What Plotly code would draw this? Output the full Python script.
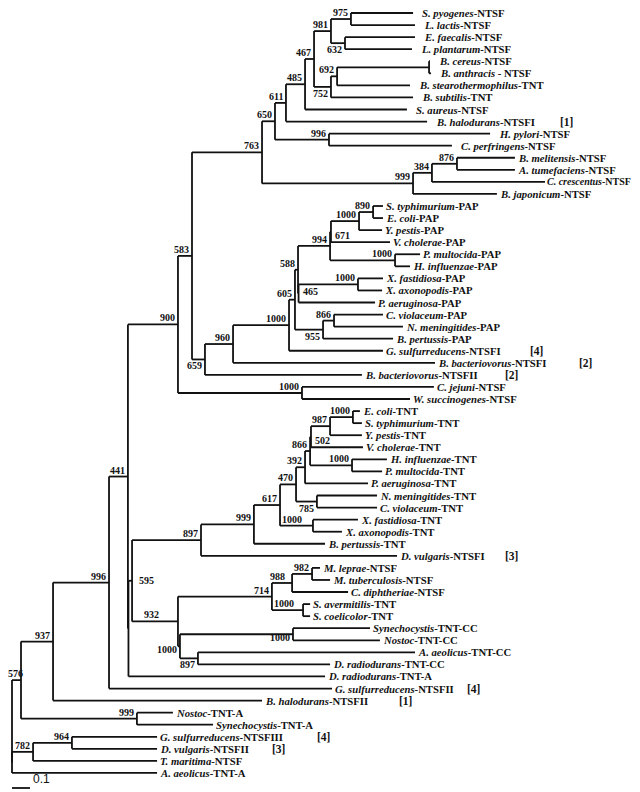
import plotly.graph_objects as go

# ---------------- leaves (top to bottom) ----------------
LEAF_SPECIES = [
    "S. pyogenes", "L. lactis", "E. faecalis", "L. plantarum", "B. cereus", "B. anthracis",
    "B. stearothermophilus", "B. subtilis", "S. aureus", "B. halodurans", "H. pylori",
    "C. perfringens", "B. melitensis", "A. tumefaciens", "C. crescentus", "B. japonicum",
    "S. typhimurium", "E. coli", "Y. pestis", "V. cholerae", "P. multocida", "H. influenzae",
    "X. fastidiosa", "X. axonopodis", "P. aeruginosa", "C. violaceum", "N. meningitides",
    "B. pertussis", "G. sulfurreducens", "B. bacteriovorus", "B. bacteriovorus", "C. jejuni",
    "W. succinogenes", "E. coli", "S. typhimurium", "Y. pestis", "V. cholerae", "H. influenzae",
    "P. multocida", "P. aeruginosa", "N. meningitides", "C. violaceum", "X. fastidiosa",
    "X. axonopodis", "B. pertussis", "D. vulgaris", "M. leprae", "M. tuberculosis",
    "C. diphtheriae", "S. avermitilis", "S. coelicolor", "Synechocystis", "Nostoc",
    "A. aeolicus", "D. radiodurans", "D. radiodurans", "G. sulfurreducens", "B. halodurans",
    "Nostoc", "Synechocystis", "G. sulfurreducens", "D. vulgaris", "T. maritima", "A. aeolicus",
]
LEAF_SUFFIX = [
    "-NTSF", "-NTSF", "-NTSF", "-NTSF", "-NTSF", " - NTSF", "-TNT", "-TNT", "-NTSF", "-NTSFI",
    "-NTSF", "-NTSF", "-NTSF", "-NTSF", "-NTSF", "-NTSF",
    "-PAP", "-PAP", "-PAP", "-PAP", "-PAP", "-PAP", "-PAP", "-PAP", "-PAP", "-PAP", "-PAP", "-PAP",
    "-NTSFI", "-NTSFI", "-NTSFII", "-NTSF", "-NTSF",
    "-TNT", "-TNT", "-TNT", "-TNT", "-TNT", "-TNT", "-TNT", "-TNT", "-TNT", "-TNT", "-TNT", "-TNT",
    "-NTSFI", "-NTSF", "-NTSF", "-NTSF", "-TNT", "-TNT",
    "-TNT-CC", "-TNT-CC", "-TNT-CC", "-TNT-CC", "-TNT-A", "-NTSFII", "-NTSFII",
    "-TNT-A", "-TNT-A", "-NTSFIII", "-NTSFII", "-NTSF", "-TNT-A",
]
# distance from root (substitutions/site) of each leaf tip
LEAF_DEPTH = [
    2.228, 2.239, 2.239, 2.222, 2.322, 2.328, 2.211, 2.228, 2.194, 2.306,
    2.656, 2.444, 2.794, 2.794, 2.961, 2.694,
    2.061, 2.061, 2.056, 2.100, 2.267, 2.211, 2.061, 2.056, 2.017, 2.061, 2.172, 2.117,
    2.061, 2.350, 1.944, 2.344, 2.211,
    1.933, 1.944, 1.944, 1.950, 2.083, 2.056, 1.978, 2.028, 2.028, 1.922, 1.833, 1.739,
    2.139, 1.711, 1.767, 1.867, 1.656, 1.656,
    1.989, 2.044, 2.239, 1.767, 1.739, 1.778, 1.389,
    0.894, 1.117, 0.806, 0.806, 0.806, 0.806,
]
# paralogue group tags next to some leaves
LEAF_GROUP = {9: "[1]", 28: "[4]", 29: "[2]", 30: "[2]", 45: "[3]",
              56: "[4]", 57: "[1]", 60: "[4]", 61: "[3]"}

# ---------------- internal nodes: (bootstrap, depth, upper child, lower child) ----------------
n975 = ("975", 1.883, 0, 1)
n632 = ("632", 1.850, 2, 3)
n981 = ("981", 1.772, n975, n632)
n_ca = ("", 2.317, 4, 5)
n692 = ("692", 1.806, n_ca, 6)
n752 = ("752", 1.772, n692, 7)
n467 = ("467", 1.678, n981, n752)
n485 = ("485", 1.628, n467, 8)
n611 = ("611", 1.522, n485, 9)
n996h = ("996", 1.761, 10, 11)
n650 = ("650", 1.461, n611, n996h)
n876 = ("876", 2.472, 12, 13)
n384 = ("384", 2.333, n876, 14)
n999b = ("999", 2.228, n384, 15)
n763 = ("763", 1.389, n650, n999b)

n890 = ("890", 2.006, 16, 17)
n1000e = ("1000", 1.928, n890, 18)
n671 = ("671", 1.772, n1000e, 19)
n1000p = ("1000", 2.128, 20, 21)
n994 = ("994", 1.767, n671, n1000p)
n1000x = ("1000", 1.922, 22, 23)
n465 = ("465", 1.592, n1000x, 24)
n588 = ("588", 1.589, n994, n465)
n866p = ("866", 1.789, 25, 26)
n955 = ("955", 1.728, n866p, 27)
n605 = ("605", 1.572, n588, n955)
n1000a = ("1000", 1.539, n605, 28)
n960 = ("960", 1.228, n1000a, 29)
n659 = ("659", 1.072, n960, 30)
n583 = ("583", 1.000, n763, n659)
n1000c = ("1000", 1.611, 31, 32)
n900 = ("900", 0.922, n583, n1000c)

n1000es = ("1000", 1.894, 33, 34)
n987 = ("987", 1.767, n1000es, 35)
n502 = ("502", 1.661, n987, 36)
n1000hp = ("1000", 1.889, 37, 38)
n866t = ("866", 1.656, n502, n1000hp)
n392 = ("392", 1.628, n866t, 39)
n785 = ("785", 1.694, 40, 41)
n470 = ("470", 1.578, n392, n785)
n1000xt = ("1000", 1.672, 42, 43)
n617 = ("617", 1.489, n470, n1000xt)
n999t = ("999", 1.344, n617, 44)
n897t = ("897", 1.050, n999t, 45)
n982 = ("982", 1.667, 46, 47)
n988 = ("988", 1.556, n982, 48)
n1000s = ("1000", 1.617, 49, 50)
n714 = ("714", 1.444, n988, n1000s)
n1000sn = ("1000", 1.561, 51, 52)
n897l = ("897", 1.033, 53, 54)
n1000l = ("1000", 0.933, n1000sn, n897l)
n932 = ("932", 0.922, n714, n1000l)
n595 = ("595", 0.667, n897t, n932)
n_c = ("", 0.647, n595, 55)
n441 = ("441", 0.644, n900, n_c)
n996 = ("996", 0.539, n441, 56)
n937 = ("937", 0.228, n996, 57)
n999ns = ("999", 0.694, 58, 59)
n576 = ("576", 0.050, n937, n999ns)
n964 = ("964", 0.333, 60, 61)
n782 = ("782", 0.117, n964, 62)
n_z = ("", 0.0, n782, 63)
ROOT = ("", 0.0, n576, n_z)

SCALE_LEN = 0.1

# ---------------- style ----------------
# label placement per (bootstrap, first leaf) : (mode, xshift px)
LABEL_STYLE = {
    ("632", 2): ("b", -2), ("752", 4): ("b", -2), ("671", 16): ("r1", 3),
    ("465", 22): ("r2", 3), ("955", 25): ("b", -2), ("659", 16): ("b", -2),
    ("502", 33): ("r1", 3), ("785", 40): ("b", -2), ("595", 33): ("r3", 6),
    ("1000", 51): ("m", -2), ("897", 53): ("b", -2), ("932", 46): ("a", -18),
    ("1000", 49): ("a", -8), ("988", 46): ("a", -6), ("617", 40): ("a", -7),
    ("1000", 42): ("a", -10), ("576", 0): ("a", 3),
}
# x position (data units) of group tags
GROUP_X = {9: 3.033, 28: 2.867, 29: 3.139, 30: 2.728, 45: 2.728,
           56: 2.517, 57: 2.139, 60: 1.683, 61: 1.433}
LEAF_SIZE = {14: 10.0}
LEAF_SHIFT = {14: 1}

W, H = 640, 792
PAGE_OFF = 8        # browser body margin
PX = 180.0          # px per distance unit
ROW = 12.063        # px per leaf row
TOP = 5             # figure px of first leaf row
X0 = (PAGE_OFF - 12) / PX
X1 = X0 + W / PX
Y0 = -TOP / ROW
Y1 = Y0 + H / ROW
SCALE_Y = (780 - TOP) / ROW

SERIF = "Liberation Serif, Times New Roman, serif"
INK = "#111111"
LW = 1.8

xs, ys, nodes = [], [], []


def first_leaf(n):
    return n if isinstance(n, int) else first_leaf(n[2])


def walk(n, parent_d):
    if isinstance(n, int):
        d, y = LEAF_DEPTH[n], n
        xs.extend([parent_d, d, None]); ys.extend([y, y, None])
        return y
    lab, d, a, b = n
    ya = walk(a, d)
    yb = walk(b, d)
    y = (ya + yb) / 2
    xs.extend([d, d, None]); ys.extend([ya, yb, None])
    if parent_d is not None:
        xs.extend([parent_d, d, None]); ys.extend([y, y, None])
    if lab:
        nodes.append((lab, d, y, ya, yb, first_leaf(n)))
    return y


walk(ROOT, None)

fig = go.Figure()
fig.add_trace(go.Scatter(x=xs, y=ys, mode="lines", line=dict(color=INK, width=LW),
                         hoverinfo="skip"))
# scale bar
fig.add_trace(go.Scatter(x=[0, SCALE_LEN], y=[SCALE_Y] * 2, mode="lines",
                         line=dict(color=INK, width=LW), hoverinfo="skip"))

ann = []
for i, (sp, sf) in enumerate(zip(LEAF_SPECIES, LEAF_SUFFIX)):
    ann.append(dict(x=LEAF_DEPTH[i], y=i, xanchor="left", yanchor="middle",
                    xshift=LEAF_SHIFT.get(i, 8 if i < 12 else 2),
                    text="<b><i>%s</i>%s</b>" % (sp, sf), showarrow=False, borderpad=0,
                    font=dict(family=SERIF, size=LEAF_SIZE.get(i, 10.7), color=INK)))
for i, tag in LEAF_GROUP.items():
    ann.append(dict(x=GROUP_X[i], y=i, xanchor="left", yanchor="middle",
                    text="<b>%s</b>" % tag, showarrow=False,
                    font=dict(family=SERIF, size=11.5, color=INK)))

for lab, d, y, ya, yb, fl in nodes:
    mode, dx = LABEL_STYLE.get((lab, fl), ("a", -2))
    a = dict(text="<b>%s</b>" % lab, showarrow=False, x=d, xshift=dx,
             font=dict(family=SERIF, size=10, color=INK), borderpad=0)
    if mode == "a":
        a.update(y=y, xanchor="right", yanchor="bottom", yshift=0)
    elif mode == "b":
        a.update(y=y, xanchor="right", yanchor="top", yshift=0)
    elif mode == "r1":
        a.update(y=yb, xanchor="left", yanchor="bottom", yshift=0)
    elif mode == "r2":
        a.update(y=ya, xanchor="left", yanchor="top", yshift=-1)
    elif mode == "r3":
        a.update(y=y, xanchor="left", yanchor="middle")
    elif mode == "m":
        a.update(y=y, xanchor="right", yanchor="middle", yshift=-3)
    ann.append(a)

ann.append(dict(x=SCALE_LEN, y=SCALE_Y, xanchor="left", yanchor="bottom", xshift=1,
                yshift=0, text="0.1", showarrow=False,
                font=dict(family="Liberation Sans, Arial, sans-serif", size=12, color=INK)))

fig.update_layout(
    width=W, height=H, margin=dict(l=0, r=0, t=0, b=0),
    paper_bgcolor="white", plot_bgcolor="white", showlegend=False,
    xaxis=dict(range=[X0, X1], visible=False, fixedrange=True),
    yaxis=dict(range=[Y1, Y0], visible=False, fixedrange=True),
    annotations=ann,
)
fig.write_html("out.html")
